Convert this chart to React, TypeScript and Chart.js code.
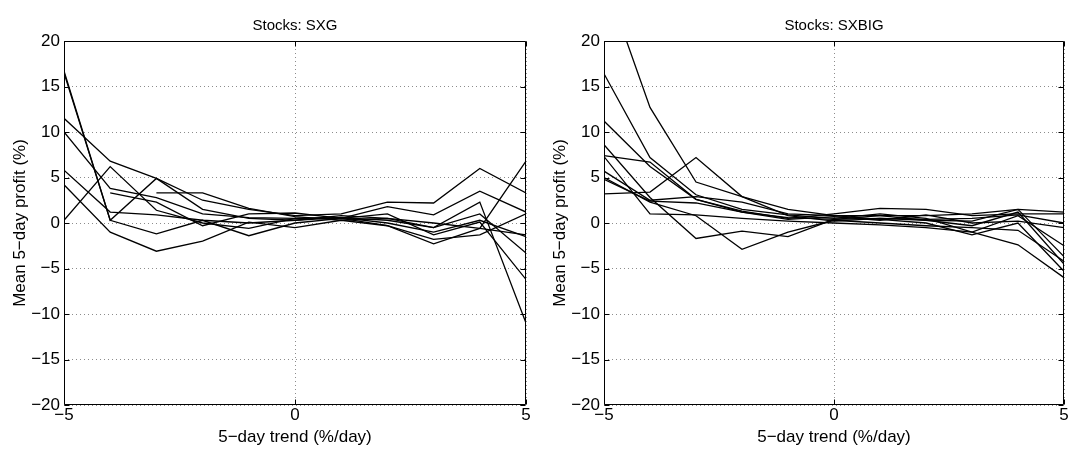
import { useEffect, useRef } from 'react';
import { Chart, registerables } from 'chart.js';

Chart.register(...registerables);

// x positions (5-day trend, %/day)
const TRENDS = [-5, -4, -3, -2, -1, 0, 1, 2, 3, 4, 5];

// Panel titles
const TITLE_SXG = 'Stocks: SXG';
const TITLE_SXBIG = 'Stocks: SXBIG';
const X_TITLE = '5\u2212day trend (%/day)';
const Y_TITLE = 'Mean 5\u2212day profit (%)';

// Stocks: SXG — mean 5-day profit (%)
const SXG_1 = [16.7, 0.3, 4.9, 1.5, 0.5, 0.3, 0.8, 0.5, -0.5, 2.3, -11.0];
const SXG_2 = [16.5, 0.3, -1.2, 0.3, -1.4, 0.0, 0.5, -0.3, -2.3, -0.6, 6.8];
const SXG_3 = [11.5, 6.8, 4.9, 2.5, 1.5, 0.8, 1.0, 2.3, 2.2, 6.0, 3.3];
const SXG_4 = [10.0, 3.8, 2.8, 1.0, 0.6, 0.5, 0.5, 1.8, 0.9, 3.5, 1.2];
const SXG_5 = [5.8, 1.2, 0.9, 0.3, 0.0, 0.3, 0.6, 0.0, -1.0, 0.3, -1.5];
const SXG_6 = [4.2, -1.0, -3.1, -2.0, 0.1, -0.5, 0.3, -0.3, -1.8, -1.3, 1.0];
const SXG_7 = [0.3, 6.2, 1.4, 0.0, -0.6, 0.5, 0.6, 0.3, -0.5, 1.0, -3.3];
const SXG_8 = [null, 3.3, 2.3, -0.3, 1.0, 1.1, 0.5, 1.0, -1.3, 0.1, -6.2];
const SXG_9 = [null, null, 3.3, 3.3, 1.6, 0.7, 0.3, 0.5, 0.0, -0.6, -1.3];

// Stocks: SXBIG — mean 5-day profit (%)
const SXBIG_1 = [27.0, 12.7, 4.5, 2.9, 1.5, 0.8, 0.8, 0.3, -0.3, 1.2, -4.5];
const SXBIG_2 = [16.4, 7.2, 3.1, 1.5, 0.9, 0.5, 1.0, 0.5, -1.0, 0.8, -2.5];
const SXBIG_3 = [11.2, 6.2, 2.6, 1.2, 0.6, 0.4, 0.5, 0.3, 0.2, 1.5, -3.7];
const SXBIG_4 = [8.6, 2.8, -1.7, -0.9, -1.5, 0.4, 0.8, 0.8, 1.0, 1.5, 1.2];
const SXBIG_5 = [7.4, 6.7, 2.6, 1.3, 0.5, 1.0, 1.6, 1.5, 0.8, 1.0, 1.0];
const SXBIG_6 = [7.3, 1.0, 0.9, 0.5, 0.2, 0.0, -0.2, -0.5, -1.0, -2.4, -6.0];
const SXBIG_7 = [5.7, 2.5, 2.9, 2.3, 1.0, 0.8, 0.4, 0.0, -1.3, 0.0, -5.3];
const SXBIG_8 = [4.8, 2.4, 2.2, 1.2, 0.4, 0.7, 0.3, 0.9, 0.0, 0.2, -0.5];
const SXBIG_9 = [3.2, 3.4, 7.2, 2.9, 0.8, 0.2, 0.5, 0.4, 0.5, 0.9, 0.0];
const SXBIG_10 = [5.0, 2.3, 0.8, -2.9, -1.0, 0.3, 0.0, -0.3, -0.5, -0.8, -4.2];

const SXG_SERIES = [SXG_1, SXG_2, SXG_3, SXG_4, SXG_5, SXG_6, SXG_7, SXG_8, SXG_9];
const SXBIG_SERIES = [SXBIG_1, SXBIG_2, SXBIG_3, SXBIG_4, SXBIG_5, SXBIG_6, SXBIG_7, SXBIG_8, SXBIG_9, SXBIG_10];

const FONT = "'Liberation Sans', Arial, Helvetica, sans-serif";
const minus = (v: number | string) => String(v).replace('-', '\u2212');

const framePlugin = {
  id: 'frame',
  afterDatasetsDraw(chart: any, _args: any, opts: any) {
    const { ctx, chartArea: a, scales } = chart;
    const L = Math.round(a.left) + 0.5;
    const R = Math.round(a.right) - 0.5;
    const T = Math.round(a.top) + 0.5;
    const B = Math.round(a.bottom) - 0.5;
    ctx.save();
    ctx.strokeStyle = '#000';
    ctx.lineWidth = 1;
    ctx.beginPath();
    ctx.rect(L, T, R - L, B - T);
    const tl = 5;
    for (const t of scales.y.ticks) {
      const p = Math.round(scales.y.getPixelForValue(t.value)) + 0.5;
      ctx.moveTo(L, p); ctx.lineTo(L + tl, p);
      ctx.moveTo(R, p); ctx.lineTo(R - tl, p);
    }
    for (const t of scales.x.ticks) {
      const p = Math.round(scales.x.getPixelForValue(t.value)) + 0.5;
      ctx.moveTo(p, B); ctx.lineTo(p, B - tl);
      ctx.moveTo(p, T); ctx.lineTo(p, T + tl);
    }
    ctx.stroke();
    ctx.fillStyle = '#000';
    ctx.font = `15px ${FONT}`;
    ctx.textAlign = 'center';
    ctx.textBaseline = 'middle';
    ctx.fillText(opts.text, (a.left + a.right) / 2, opts.titleY);
    ctx.restore();
  },
};

type PanelProps = {
  title: string;
  series: (number | null)[][];
  left: number;
  yAxisWidth: number;
  padRight: number;
  yTitlePad: number;
};

function Panel({ title, series, left, yAxisWidth, padRight, yTitlePad }: PanelProps) {
  const ref = useRef<HTMLCanvasElement>(null);
  useEffect(() => {
    if (!ref.current) return;
    const chart = new Chart(ref.current, {
      type: 'line',
      data: {
        datasets: series.map((s) => ({
          data: s.map((v, i) => ({ x: TRENDS[i], y: v })),
          borderColor: '#000',
          borderWidth: 1.3,
          pointRadius: 0,
          fill: false,
          tension: 0,
          spanGaps: false,
        })),
      },
      options: {
        responsive: false,
        animation: false,
        events: [],
        layout: { padding: { top: 41, right: padRight, left: 0, bottom: 0 } },
        plugins: {
          legend: { display: false },
          tooltip: { enabled: false },
          title: { display: false },
          frame: { text: title, titleY: 26 },
        } as any,
        scales: {
          x: {
            type: 'linear',
            min: -5,
            max: 5,
            afterFit: (s: any) => { s.height = 46; },
            ticks: {
              stepSize: 5,
              padding: 0,
              color: '#000',
              maxRotation: 0,
              font: { family: FONT, size: 17 },
              callback: (v: any) => minus(v),
            },
            grid: { color: 'rgba(0,0,0,0.45)', lineWidth: 1, drawTicks: false },
            border: { display: false, dash: [1, 3] },
            title: {
              display: true,
              text: X_TITLE,
              color: '#000',
              font: { family: FONT, size: 17 },
              padding: { top: 0, bottom: 3 },
            },
          },
          y: {
            type: 'linear',
            min: -20,
            max: 20,
            afterFit: (s: any) => { s.width = yAxisWidth; },
            ticks: {
              stepSize: 5,
              padding: 4,
              color: '#000',
              font: { family: FONT, size: 17 },
              callback: (v: any) => minus(v),
            },
            grid: { color: 'rgba(0,0,0,0.45)', lineWidth: 1, drawTicks: false },
            border: { display: false, dash: [1, 3] },
            title: {
              display: true,
              text: Y_TITLE,
              color: '#000',
              font: { family: FONT, size: 17 },
              padding: { top: yTitlePad, bottom: 0 },
            },
          },
        },
      },
      plugins: [framePlugin],
    } as any);
    return () => chart.destroy();
  }, [title, series, yAxisWidth, padRight, yTitlePad]);

  return (
    <canvas
      ref={ref}
      width={535}
      height={451}
      style={{ position: 'absolute', left, top: 0, width: 535, height: 451 }}
    />
  );
}

export default function App() {
  return (
    <div style={{ position: 'absolute', left: 0, top: 0, width: 1070, height: 451, background: '#fff' }}>
      <Panel title={TITLE_SXG} series={SXG_SERIES} left={0} yAxisWidth={64} padRight={9} yTitlePad={10} />
      <Panel title={TITLE_SXBIG} series={SXBIG_SERIES} left={535} yAxisWidth={69} padRight={6} yTitlePad={15} />
    </div>
  );
}
